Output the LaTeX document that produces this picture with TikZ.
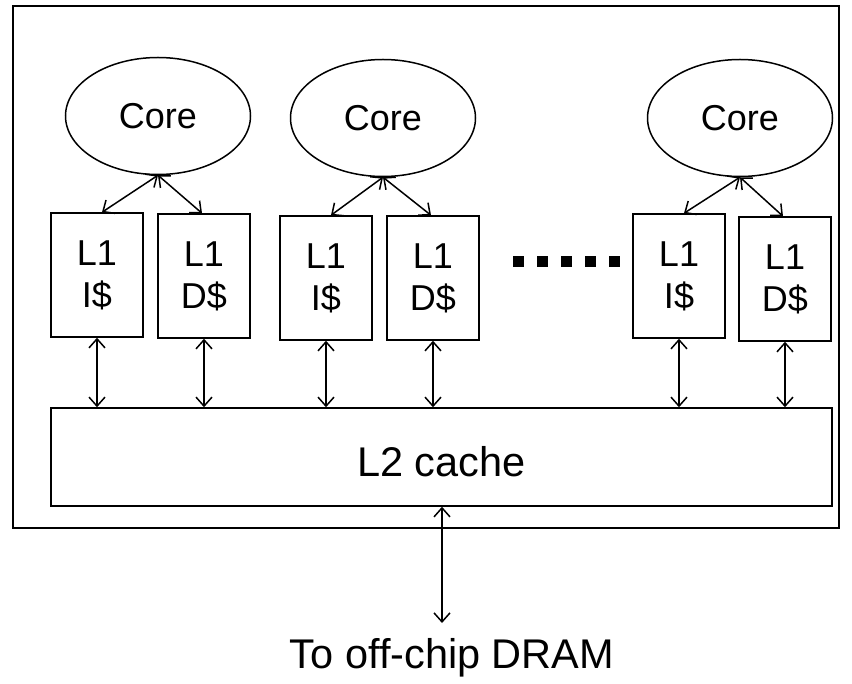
\documentclass[tikz,border=0pt]{standalone}
\usepackage{fontspec}
\setmainfont{Liberation Sans}
\usetikzlibrary{shapes.geometric,arrows.meta,calc}
\begin{document}
\begin{tikzpicture}[x=1pt,y=-1pt,
  every node/.style={font=\fontsize{36}{42}\selectfont},
  bigtext/.style={font=\fontsize{41.5}{48}\selectfont},
  corenode/.style={draw,line width=1.5pt,ellipse,minimum width=185pt,minimum height=117pt,inner sep=0pt},
  l1box/.style={draw,line width=1.5pt,rectangle,minimum width=92pt,minimum height=124pt,inner sep=0pt,align=center},
  link/.style={line width=1.5pt,{Straight Barb[length=9pt,width=16pt]}-{Straight Barb[length=9pt,width=16pt]}},
  dot/.style={fill=black,minimum size=11pt,inner sep=0pt,rectangle}]
\useasboundingbox (0,0) rectangle (852,684);
\node[draw,line width=1.5pt,minimum width=826pt,minimum height=522pt,inner sep=0pt] (chip) at (426,267) {};
\node[corenode] (c1) at (158,116) {Core};
\node[corenode] (c2) at (383,118) {Core};
\node[corenode] (c3) at (740,118) {Core};
\node[l1box] (i1) at (97,275) {L1\\I\$};
\node[l1box] (d1) at (204,276) {L1\\D\$};
\node[l1box] (i2) at (326,278) {L1\\I\$};
\node[l1box] (d2) at (433,278) {L1\\D\$};
\node[l1box] (i3) at (679,276) {L1\\I\$};
\node[l1box] (d3) at (785,279) {L1\\D\$};
\node[dot] (p1) at (518,262) {};
\node[dot] (p2) at (542,262) {};
\node[dot] (p3) at (566,262) {};
\node[dot] (p4) at (590,262) {};
\node[dot] (p5) at (614,262) {};
\node[draw,line width=1.5pt,minimum width=781pt,minimum height=98pt,inner sep=0pt,bigtext,text height=40pt,text depth=0pt] (l2) at (441.5,457) {L2 cache};
\node[bigtext] (dram) at (452,658) {To off-chip DRAM};
\coordinate (dtop) at (442,623);
\foreach \c/\i/\d in {c1/i1/d1,c2/i2/d2,c3/i3/d3}{
  \draw[link] ($(\i.north)+(5,0)$) -- (\c.south);
  \draw[link] (\c.south) -- ($(\d.north)+(-2,0)$);
}
\foreach \b in {i1,d1,i2,d2,i3,d3}{
  \draw[link] (\b.south) -- (\b.south |- l2.north);
}
\draw[link] (l2.south -| dtop) -- (dtop);
\end{tikzpicture}
\end{document}
